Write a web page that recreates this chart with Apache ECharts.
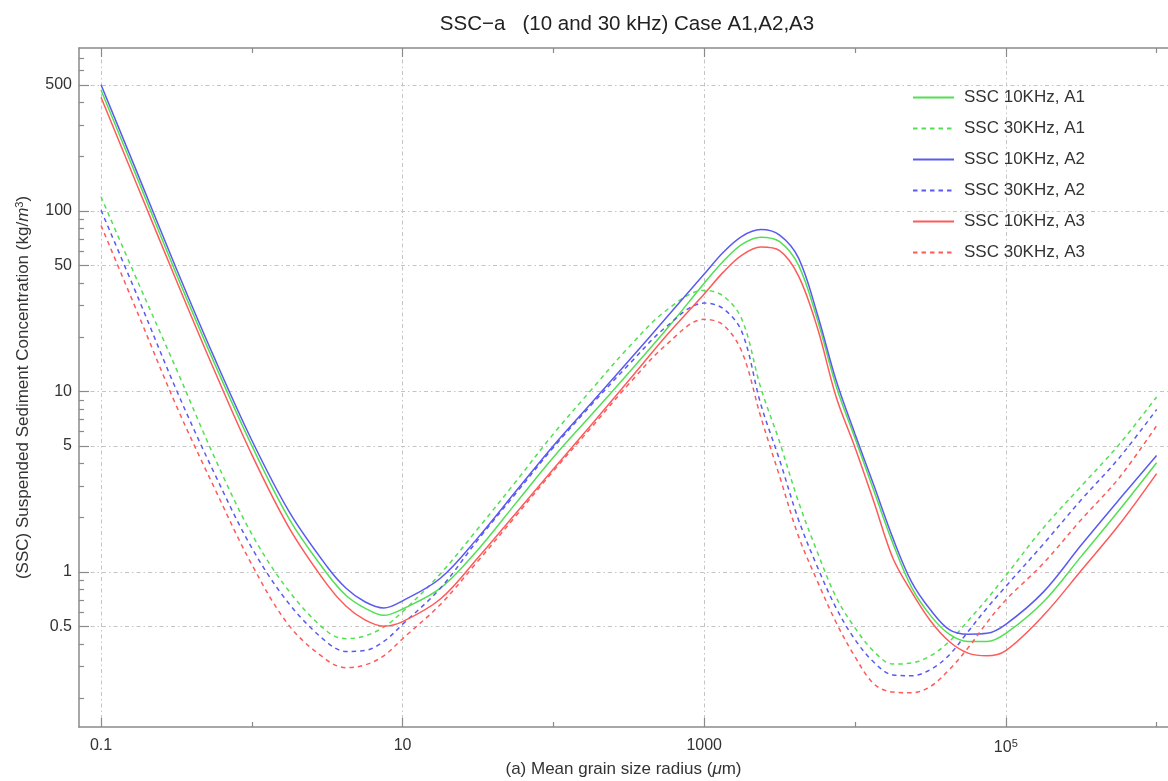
<!DOCTYPE html>
<html>
<head>
<meta charset="utf-8">
<title>SSC-a (10 and 30 kHz) Case A1,A2,A3</title>
<script src="https://cdn.jsdelivr.net/npm/echarts@6/dist/echarts.min.js"></script>
<style>
  html, body { margin: 0; padding: 0; background: #fff; }
  #chart { width: 1168px; height: 781px; }
</style>
</head>
<body>
<div id="chart"></div>
<script>
// mean grain size radius (um)
const radius = [0.1, 0.178, 0.316, 0.562, 1, 1.78, 3.16, 4.22, 5.62, 7.5, 10, 17.8, 31.6, 56.2, 100, 178, 316, 562,
  1000, 1334, 1778, 2371, 3162, 4217, 5623, 7499, 10000, 13335, 17783, 23714, 31623, 42170, 56234, 74989,
  100000, 177828, 316228, 562341, 1000000];

// SSC (kg/m^3)
const sscA1at10 = [468, 145, 44.7, 14.5, 5.01, 1.95, 0.977, 0.741, 0.631, 0.575, 0.624, 0.813, 1.33, 2.40, 4.32, 7.41, 12.7, 22.1,
  39.8, 52.5, 65.3, 71.6, 67.6, 50.1, 25.1, 10.7, 5.50, 2.82, 1.45, 0.822, 0.575, 0.452, 0.412, 0.412,
  0.457, 0.684, 1.22, 2.19, 4.03];
const sscA1at30 = [120, 39.4, 13.3, 4.37, 1.62, 0.776, 0.468, 0.427, 0.442, 0.495, 0.603, 0.977, 1.74, 3.16, 5.82, 10.2, 17.6, 28.2,
  36.3, 33.9, 25.1, 10.5, 5.25, 2.45, 1.29, 0.724, 0.490, 0.363, 0.309, 0.313, 0.343, 0.412, 0.537, 0.708,
  0.955, 1.76, 2.99, 5.07, 9.33];
const sscA2at10 = [501, 155, 47.9, 15.5, 5.37, 2.14, 1.07, 0.813, 0.684, 0.631, 0.692, 0.923, 1.55, 2.79, 5.01, 8.61, 14.8, 25.7,
  44.7, 58.9, 72.4, 78.9, 73.6, 55.0, 26.9, 11.5, 5.82, 3.02, 1.55, 0.881, 0.617, 0.479, 0.452, 0.457,
  0.513, 0.776, 1.41, 2.51, 4.42];
const sscA2at30 = [101, 32.4, 10.2, 3.55, 1.36, 0.661, 0.407, 0.363, 0.367, 0.412, 0.513, 0.813, 1.51, 2.72, 4.90, 8.41, 14.1, 22.9,
  30.9, 28.8, 21.4, 8.51, 4.17, 1.95, 1.07, 0.631, 0.422, 0.316, 0.269, 0.266, 0.288, 0.347, 0.468, 0.631,
  0.832, 1.43, 2.51, 4.27, 7.94];
const sscA3at10 = [427, 132, 41.2, 13.2, 4.47, 1.74, 0.851, 0.646, 0.543, 0.501, 0.531, 0.708, 1.20, 2.11, 3.72, 6.53, 11.5, 20.4,
  34.7, 45.7, 56.9, 63.1, 60.3, 43.7, 22.6, 9.33, 4.90, 2.45, 1.20, 0.776, 0.537, 0.412, 0.355, 0.343,
  0.367, 0.575, 1.02, 1.82, 3.51];
const sscA3at30 = [83.2, 26.3, 8.32, 2.95, 1.10, 0.501, 0.324, 0.295, 0.305, 0.343, 0.427, 0.661, 1.15, 2.04, 3.63, 6.31, 11.0, 18.2,
  25.1, 23.4, 16.6, 7.24, 3.39, 1.58, 0.891, 0.525, 0.339, 0.240, 0.216, 0.214, 0.232, 0.288, 0.380, 0.525,
  0.700, 1.12, 1.95, 3.31, 6.46];

const seriesNames = ["SSC 10KHz, A1", "SSC 30KHz, A1", "SSC 10KHz, A2", "SSC 30KHz, A2", "SSC 10KHz, A3", "SSC 30KHz, A3"];
const seriesValues = [sscA1at10, sscA1at30, sscA2at10, sscA2at30, sscA3at10, sscA3at30];
const seriesColors = ["#52e052", "#52e052", "#5a5af0", "#5a5af0", "#ff5a5a", "#ff5a5a"];
const seriesDashed = [false, true, false, true, false, true];

const xMajorTicks = [0.1, 10, 1000, 100000];
const xMinorTicks = [1, 100, 10000, 1000000];
const yMajorTicks = [0.5, 1, 5, 10, 50, 100, 500];
const yMinorTicks = [0.2, 0.3, 0.4, 0.6, 0.7, 0.8, 0.9, 2, 3, 4, 6, 7, 8, 9, 20, 30, 40, 60, 70, 80, 90,
  200, 300, 400, 600, 700];

const font = "Liberation Sans, Arial, sans-serif";
const axisGray = "#8a8a8a";
const xMin = 0.07145, xMax = 1.19e6;
const yMin = 0.1384, yMax = 800;

const chart = echarts.init(document.getElementById("chart"));

const gridLine = {
  show: true,
  lineStyle: { color: "#c4c4c4", width: 1, type: [4, 3, 1.5, 3] },
};

const xAxisBase = (position, ticks, len, labels, split, line) => ({
  type: "log",
  logBase: 10,
  min: xMin,
  max: xMax,
  position: position,
  axisLine: { show: line, onZero: false, lineStyle: { color: axisGray, width: 1.5 } },
  axisTick: { show: true, inside: true, length: len, customValues: ticks, lineStyle: { color: axisGray, width: 1.2 } },
  axisLabel: {
    show: labels,
    customValues: ticks,
    margin: 11,
    fontSize: 16,
    fontFamily: font,
    color: "#333",
    formatter(v) {
      const n = Number(v.toPrecision(6));
      if (n >= 100000) {
        return "10{sup|5}";
      }
      return String(n);
    },
    rich: {
      sup: { fontSize: 11, fontFamily: font, color: "#333", padding: [0, 0, 8, 0] },
    },
  },
  splitLine: split ? gridLine : { show: false },
  minorTick: { show: false },
});

const yAxisBase = (ticks, len, labels, split, line) => ({
  type: "log",
  logBase: 10,
  min: yMin,
  max: yMax,
  position: "left",
  axisLine: { show: line, onZero: false, lineStyle: { color: axisGray, width: 1.5 } },
  axisTick: { show: true, inside: true, length: len, customValues: ticks, lineStyle: { color: axisGray, width: 1.2 } },
  axisLabel: {
    show: labels,
    customValues: ticks,
    margin: 7,
    fontSize: 16,
    fontFamily: font,
    color: "#333",
    formatter(v) {
      return String(Number(v.toPrecision(6)));
    },
  },
  splitLine: split ? gridLine : { show: false },
});

const xMain = xAxisBase("bottom", xMajorTicks, 9, true, true, true);
xMain.name = "(a) Mean grain size radius ({i|\u03bc}m)";
xMain.nameLocation = "middle";
xMain.nameGap = 34;
xMain.nameTextStyle = {
  fontSize: 17,
  fontFamily: font,
  color: "#333",
  rich: { i: { fontSize: 17, fontFamily: font, fontStyle: "italic", color: "#333" } },
};

const yMain = yAxisBase(yMajorTicks, 10, true, true, true);
yMain.name = "(SSC) Suspended Sediment Concentration (kg/{i|m}{sup|3})";
yMain.nameLocation = "middle";
yMain.nameGap = 46;
yMain.nameTextStyle = {
  fontSize: 17,
  fontFamily: font,
  color: "#333",
  rich: {
    i: { fontSize: 17, fontFamily: font, fontStyle: "italic", color: "#333" },
    sup: { fontSize: 11, fontFamily: font, color: "#333", padding: [0, 0, 8, 0] },
  },
};

const option = {
  animation: false,
  backgroundColor: "#fff",
  title: {
    text: "SSC\u2212a   (10 and 30 kHz) Case A1,A2,A3",
    left: 627,
    top: 14,
    textAlign: "center",
    padding: 0,
    textStyle: { fontSize: 20.5, fontWeight: "normal", fontFamily: font, color: "#222" },
  },
  grid: {
    left: 79,
    top: 48,
    right: 0,
    bottom: 54,
    show: false,
    containLabel: false,
    outerBoundsMode: "none",
  },
  legend: {
    orient: "vertical",
    left: 912,
    top: 89,
    padding: 0,
    itemWidth: 41,
    itemHeight: 14,
    itemGap: 14,
    data: seriesNames,
    itemStyle: { opacity: 0 },
    textStyle: { fontSize: 17, fontFamily: font, color: "#333", padding: [0, 0, 0, 5] },
  },
  xAxis: [
    xMain,
    xAxisBase("bottom", xMinorTicks, 5, false, false, false),
    xAxisBase("top", xMajorTicks, 9, false, false, true),
    xAxisBase("top", xMinorTicks, 5, false, false, false),
  ],
  yAxis: [
    yMain,
    yAxisBase(yMinorTicks, 5, false, false, false),
  ],
  series: seriesNames.map((name, k) => ({
    name: name,
    type: "line",
    xAxisIndex: 0,
    yAxisIndex: 0,
    data: radius.map((r, i) => [r, seriesValues[k][i]]),
    symbol: "none",
    smooth: 0.35,
    clip: true,
    color: seriesColors[k],
    lineStyle: {
      color: seriesColors[k],
      width: 1.5,
      type: seriesDashed[k] ? [4.5, 4] : "solid",
    },
  })),
};

chart.setOption(option);
</script>
</body>
</html>
